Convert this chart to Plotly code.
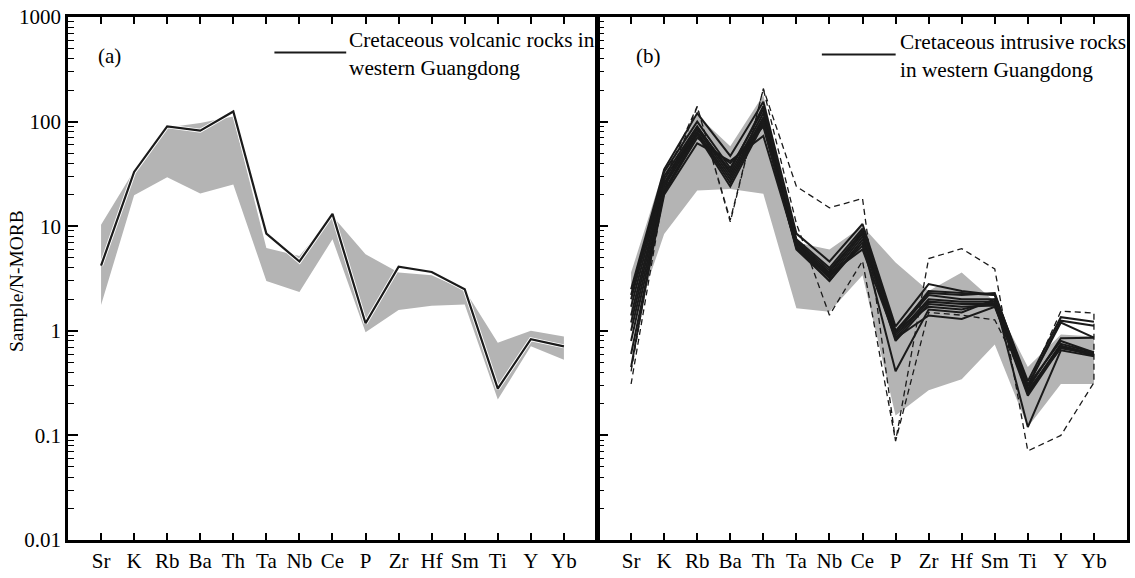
import plotly.graph_objects as go

# ---------------- data ----------------
elements = ["Sr", "K", "Rb", "Ba", "Th", "Ta", "Nb", "Ce", "P", "Zr", "Hf", "Sm", "Ti", "Y", "Yb"]
ytick_vals = [0.01, 0.1, 1, 10, 100, 1000]
ytick_text = ["0.01", "0.1", "1", "10", "100", "1000"]

# panel (a): volcanic rocks line and grey field
a_line = [4.2, 33, 90, 82, 125, 8.5, 4.6, 13.1, 1.18, 4.1, 3.65, 2.5, 0.28, 0.83, 0.71]
a_field_upper = [10.3, 34, 88, 97, 112, 6.2, 5.2, 12.5, 5.4, 3.6, 3.4, 2.45, 0.77, 1.0, 0.88]
a_field_lower = [1.76, 19.8, 29.4, 20.5, 25, 3.0, 2.35, 7.5, 0.97, 1.58, 1.74, 1.78, 0.22, 0.71, 0.53]

# panel (b): intrusive rocks samples
b_lines = [
    [2.5, 35, 120, 47, 155, 8.5, 4.6, 10.5, 1.1, 2.8, 2.4, 2.2, 0.33, 1.35, 1.22],
    [2.2, 33, 100, 36, 130, 7.5, 4.0, 9.5, 1.0, 2.3, 2.2, 2.3, 0.30, 1.25, 1.12],
    [2.0, 30, 90, 32, 120, 7.0, 3.6, 9.0, 0.95, 2.2, 2.0, 2.0, 0.28, 0.85, 0.86],
    [1.7, 28, 85, 30, 110, 6.8, 3.4, 8.5, 0.9, 2.0, 1.9, 1.9, 0.26, 0.75, 0.62],
    [1.4, 26, 80, 28, 105, 6.5, 3.2, 8.0, 0.85, 1.9, 1.8, 1.8, 0.25, 0.72, 0.60],
    [1.2, 24, 78, 26, 100, 6.3, 3.0, 7.5, 0.8, 1.8, 1.7, 1.75, 0.24, 0.70, 0.58],
    [1.0, 22, 75, 24, 95, 6.0, 3.0, 7.0, 0.41, 1.6, 1.5, 2.0, 0.12, 0.65, 0.57],
    [0.8, 21, 70, 40, 90, 6.2, 3.3, 6.5, 1.0, 1.7, 1.6, 1.9, 0.30, 0.80, 0.62],
    [0.6, 20, 62, 42, 73, 6.4, 3.5, 6.0, 0.85, 1.4, 1.3, 1.7, 0.27, 0.68, 0.60],
    [0.45, 25, 88, 34, 140, 7.2, 3.8, 8.8, 0.95, 2.4, 2.3, 2.2, 0.30, 1.20, 0.86],
]
b_field_upper = [3.6, 36, 115, 58, 180, 7.0, 6.0, 10.0, 4.5, 2.4, 3.6, 1.9, 0.45, 0.92, 0.88]
b_field_lower = [1.0, 8.4, 22, 22.7, 20.4, 1.64, 1.52, 3.4, 0.155, 0.27, 0.345, 0.74, 0.12, 0.31, 0.31]
b_dash_path1 = [0.41, 28, 140, 11, 207, 24, 15, 18.4, 0.088, 4.9, 6.1, 3.9, 0.071, 0.10, 0.32]
b_dash_path2 = [0.31, 22, 138, 11.5, 205, 10.6, 1.41, 4.66, 0.088, 1.5, 1.41, 1.27, 0.30, 1.54, 1.48]

# ---------------- figure ----------------
FONT = "Liberation Serif, Times New Roman, serif"
W, H = 1135, 578
ML, MR, MT, MB = 68, 5, 17, 30
PW, PH = W - ML - MR, H - MT - MB
GREY = "rgb(180,180,180)"
INK = "#1a1a1a"

xs = list(range(len(elements)))
fig = go.Figure()


def field(upper, lower, xa, ya):
    fig.add_trace(go.Scatter(
        x=xs + xs[::-1], y=upper + lower[::-1], fill="toself", fillcolor=GREY,
        line=dict(width=0, color=GREY), mode="lines", xaxis=xa, yaxis=ya,
        hoverinfo="skip", showlegend=False))


# panel a
field(a_field_upper, a_field_lower, "x", "y")
fig.add_trace(go.Scatter(x=xs, y=a_line, mode="lines", line=dict(color="white", width=4),
                         xaxis="x", yaxis="y", showlegend=False, hoverinfo="skip"))
fig.add_trace(go.Scatter(x=xs, y=a_line, mode="lines", line=dict(color=INK, width=2.2),
                         xaxis="x", yaxis="y", showlegend=False))

# panel b
field(b_field_upper, b_field_lower, "x2", "y2")
fig.add_trace(go.Scatter(
    x=xs + xs[::-1], y=b_dash_path1 + b_dash_path2[::-1], mode="lines",
    line=dict(color=INK, width=1.3, dash="6px,4px"), xaxis="x2", yaxis="y2",
    showlegend=False))
for ln in b_lines:
    fig.add_trace(go.Scatter(x=xs, y=ln, mode="lines", line=dict(color=INK, width=2),
                             xaxis="x2", yaxis="y2", showlegend=False))

minor_vals = [m * 10 ** e for e in range(-2, 3) for m in range(2, 10)]

xaxis_common = dict(
    range=[-1, 15], tickvals=xs, ticktext=elements, ticks="inside", ticklen=7,
    tickwidth=1.5, tickcolor="black", showline=True, linewidth=2.5, linecolor="black",
    mirror="ticks", showgrid=False, zeroline=False,
    tickfont=dict(family=FONT, size=21, color="black"))
yaxis_common = dict(
    type="log", range=[-2, 3], tickvals=ytick_vals, ticktext=ytick_text,
    ticks="inside", ticklen=10, tickwidth=1.5, tickcolor="black",
    minor=dict(tickvals=minor_vals, ticks="inside", ticklen=6, tickwidth=1.3,
               tickcolor="black", showgrid=False),
    showline=True, linewidth=2.5, linecolor="black", mirror=True,
    showgrid=False, zeroline=False,
    tickfont=dict(family=FONT, size=21, color="black"))

fig.update_layout(
    width=W, height=H, margin=dict(l=ML, r=MR, t=MT, b=MB),
    paper_bgcolor="white", plot_bgcolor="white", showlegend=False,
    xaxis=dict(domain=[0, 0.4995], anchor="y", **xaxis_common),
    xaxis2=dict(domain=[0.5005, 1], anchor="y2", **xaxis_common),
    yaxis=dict(anchor="x", **yaxis_common),
    yaxis2=dict(anchor="x2", showticklabels=False, **{k: v for k, v in yaxis_common.items()}),
)


def px(x):
    return (x - ML) / PW


def py(y):
    return (H - MB - y) / PH


annos = [
    dict(text="Sample/N-MORB", x=px(17), y=py(285), textangle=-90, font_size=19.5,
         xanchor="center", yanchor="middle"),
    dict(text="(a)", x=px(110), y=py(57), font_size=21, xanchor="center", yanchor="middle"),
    dict(text="(b)", x=px(650), y=py(57), font_size=21, xanchor="center", yanchor="middle"),
    dict(text="Cretaceous volcanic rocks in<br>western Guangdong", x=px(348), y=py(55),
         font_size=21.3, xanchor="left", yanchor="middle", align="left"),
    dict(text="Cretaceous intrusive rocks<br>in western Guangdong", x=px(900), y=py(57),
         font_size=21.3, xanchor="left", yanchor="middle", align="left"),
]
for a in annos:
    fs = a.pop("font_size")
    fig.add_annotation(xref="paper", yref="paper", showarrow=False,
                       font=dict(family=FONT, size=fs, color="black"), **a)

fig.add_shape(type="line", xref="paper", yref="paper", x0=px(275), x1=px(347),
              y0=py(53), y1=py(53), line=dict(color=INK, width=2))
fig.add_shape(type="line", xref="paper", yref="paper", x0=px(824), x1=px(898),
              y0=py(55), y1=py(55), line=dict(color=INK, width=2))

fig.write_html("out.html")
